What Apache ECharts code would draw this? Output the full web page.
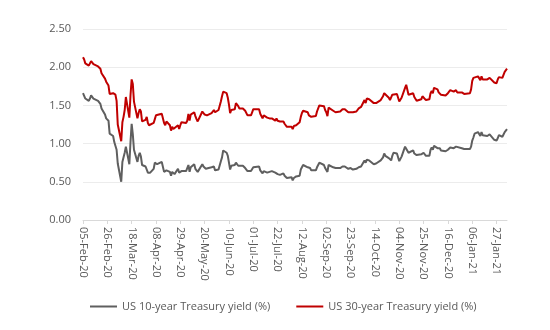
<!DOCTYPE html>
<html>
<head>
<meta charset="utf-8">
<script src="https://cdn.jsdelivr.net/npm/echarts@6/dist/echarts.min.js"></script>
<style>html,body{margin:0;padding:0;background:#fff}#c{width:550px;height:330px}</style>
</head>
<body>
<div id="c"></div>
<script>
const seriesNames = ["US 10-year Treasury yield (%)", "US 30-year Treasury yield (%)"];
const yTicks = [0, 0.5, 1, 1.5, 2, 2.5];

const dates = [
"2020-02-05","2020-02-06","2020-02-07","2020-02-10","2020-02-11","2020-02-12","2020-02-13","2020-02-14","2020-02-18","2020-02-19","2020-02-20","2020-02-21","2020-02-24","2020-02-25","2020-02-26","2020-02-27","2020-02-28",
"2020-03-02","2020-03-03","2020-03-04","2020-03-05","2020-03-06","2020-03-09","2020-03-10","2020-03-11","2020-03-12","2020-03-13","2020-03-16","2020-03-17","2020-03-18","2020-03-19","2020-03-20","2020-03-23","2020-03-24","2020-03-25","2020-03-26","2020-03-27","2020-03-30","2020-03-31",
"2020-04-01","2020-04-02","2020-04-03","2020-04-06","2020-04-07","2020-04-08","2020-04-09","2020-04-13","2020-04-14","2020-04-15","2020-04-16","2020-04-17","2020-04-20","2020-04-21","2020-04-22","2020-04-23","2020-04-24","2020-04-27","2020-04-28","2020-04-29","2020-04-30",
"2020-05-01","2020-05-04","2020-05-05","2020-05-06","2020-05-07","2020-05-08","2020-05-11","2020-05-12","2020-05-13","2020-05-14","2020-05-15","2020-05-18","2020-05-19","2020-05-20","2020-05-21","2020-05-22","2020-05-26","2020-05-27","2020-05-28","2020-05-29",
"2020-06-01","2020-06-02","2020-06-03","2020-06-04","2020-06-05","2020-06-08","2020-06-09","2020-06-10","2020-06-11","2020-06-12","2020-06-15","2020-06-16","2020-06-17","2020-06-18","2020-06-19","2020-06-22","2020-06-23","2020-06-24","2020-06-25","2020-06-26","2020-06-29","2020-06-30",
"2020-07-01","2020-07-02","2020-07-06","2020-07-07","2020-07-08","2020-07-09","2020-07-10","2020-07-13","2020-07-14","2020-07-15","2020-07-16","2020-07-17","2020-07-20","2020-07-21","2020-07-22","2020-07-23","2020-07-24","2020-07-27","2020-07-28","2020-07-29","2020-07-30","2020-07-31",
"2020-08-03","2020-08-04","2020-08-05","2020-08-06","2020-08-07","2020-08-10","2020-08-11","2020-08-12","2020-08-13","2020-08-14","2020-08-17","2020-08-18","2020-08-19","2020-08-20","2020-08-21","2020-08-24","2020-08-25","2020-08-26","2020-08-27","2020-08-28","2020-08-31",
"2020-09-01","2020-09-02","2020-09-03","2020-09-04","2020-09-08","2020-09-09","2020-09-10","2020-09-11","2020-09-14","2020-09-15","2020-09-16","2020-09-17","2020-09-18","2020-09-21","2020-09-22","2020-09-23","2020-09-24","2020-09-25","2020-09-28","2020-09-29","2020-09-30",
"2020-10-01","2020-10-02","2020-10-05","2020-10-06","2020-10-07","2020-10-08","2020-10-09","2020-10-13","2020-10-14","2020-10-15","2020-10-16","2020-10-19","2020-10-20","2020-10-21","2020-10-22","2020-10-23","2020-10-26","2020-10-27","2020-10-28","2020-10-29","2020-10-30",
"2020-11-02","2020-11-03","2020-11-04","2020-11-05","2020-11-06","2020-11-09","2020-11-10","2020-11-12","2020-11-13","2020-11-16","2020-11-17","2020-11-18","2020-11-19","2020-11-20","2020-11-23","2020-11-24","2020-11-25","2020-11-27","2020-11-30",
"2020-12-01","2020-12-02","2020-12-03","2020-12-04","2020-12-07","2020-12-08","2020-12-09","2020-12-10","2020-12-11","2020-12-14","2020-12-15","2020-12-16","2020-12-17","2020-12-18","2020-12-21","2020-12-22","2020-12-23","2020-12-24","2020-12-28","2020-12-29","2020-12-30","2020-12-31",
"2021-01-04","2021-01-05","2021-01-06","2021-01-07","2021-01-08","2021-01-11","2021-01-12","2021-01-13","2021-01-14","2021-01-15","2021-01-19","2021-01-20","2021-01-21","2021-01-22","2021-01-25","2021-01-26","2021-01-27","2021-01-28","2021-01-29",
"2021-02-01","2021-02-02","2021-02-03","2021-02-04","2021-02-05"
];

const us10y = [
1.66,1.65,1.59,1.56,1.59,1.63,1.62,1.59,1.56,1.57,1.52,1.46,1.38,1.33,1.33,1.30,1.13,
1.10,1.02,1.02,0.92,0.74,0.50,0.76,0.82,0.88,0.96,0.73,1.02,1.26,1.12,0.92,0.76,0.84,0.88,0.83,0.72,0.70,0.70,
0.62,0.63,0.62,0.67,0.75,0.77,0.73,0.76,0.76,0.63,0.61,0.65,0.63,0.58,0.63,0.61,0.60,0.67,0.62,0.63,0.64,
0.64,0.64,0.66,0.72,0.63,0.69,0.73,0.67,0.66,0.63,0.64,0.73,0.70,0.68,0.67,0.66,0.69,0.68,0.70,0.65,
0.66,0.68,0.77,0.82,0.91,0.88,0.84,0.75,0.66,0.71,0.72,0.75,0.74,0.71,0.70,0.71,0.72,0.68,0.68,0.64,0.64,0.66,
0.69,0.68,0.70,0.65,0.67,0.61,0.64,0.62,0.63,0.63,0.62,0.64,0.62,0.61,0.60,0.59,0.59,0.61,0.58,0.58,0.55,0.55,
0.56,0.52,0.55,0.55,0.57,0.58,0.66,0.68,0.72,0.71,0.69,0.67,0.68,0.65,0.64,0.65,0.69,0.69,0.75,0.74,0.72,
0.68,0.67,0.63,0.72,0.69,0.70,0.68,0.67,0.68,0.68,0.70,0.69,0.70,0.67,0.68,0.68,0.67,0.66,0.67,0.65,0.69,
0.68,0.70,0.78,0.75,0.79,0.78,0.78,0.73,0.73,0.74,0.75,0.78,0.80,0.82,0.87,0.84,0.81,0.79,0.78,0.84,0.88,
0.87,0.89,0.77,0.78,0.83,0.96,0.98,0.88,0.90,0.91,0.87,0.87,0.85,0.83,0.86,0.88,0.88,0.84,0.84,
0.92,0.95,0.92,0.97,0.94,0.92,0.94,0.91,0.90,0.90,0.92,0.92,0.93,0.95,0.94,0.92,0.96,0.94,0.94,0.94,0.93,0.93,
0.93,0.96,1.04,1.08,1.13,1.15,1.15,1.10,1.15,1.11,1.10,1.10,1.12,1.10,1.05,1.05,1.04,1.07,1.11,
1.09,1.12,1.15,1.16,1.19
];

const us30y = [
2.13,2.10,2.05,2.02,2.05,2.08,2.07,2.04,2.01,2.03,1.98,1.92,1.85,1.81,1.80,1.76,1.65,
1.66,1.64,1.64,1.56,1.25,1.03,1.28,1.35,1.44,1.61,1.34,1.63,1.84,1.78,1.55,1.33,1.40,1.45,1.42,1.29,1.31,1.35,
1.27,1.24,1.24,1.27,1.32,1.37,1.35,1.39,1.39,1.27,1.24,1.29,1.24,1.17,1.22,1.19,1.17,1.24,1.19,1.24,1.28,
1.26,1.27,1.30,1.39,1.30,1.38,1.41,1.36,1.32,1.29,1.31,1.42,1.41,1.38,1.37,1.37,1.40,1.40,1.44,1.41,
1.44,1.46,1.55,1.62,1.68,1.66,1.60,1.51,1.40,1.44,1.45,1.53,1.52,1.49,1.46,1.46,1.48,1.43,1.44,1.37,1.37,1.41,
1.45,1.43,1.45,1.39,1.41,1.33,1.37,1.34,1.33,1.33,1.32,1.33,1.30,1.33,1.30,1.29,1.29,1.29,1.26,1.26,1.22,1.20,
1.22,1.19,1.23,1.22,1.24,1.28,1.35,1.40,1.43,1.45,1.41,1.37,1.39,1.35,1.34,1.36,1.42,1.41,1.50,1.51,1.49,
1.44,1.41,1.36,1.47,1.43,1.44,1.41,1.41,1.42,1.42,1.45,1.44,1.45,1.41,1.41,1.41,1.42,1.41,1.42,1.41,1.46,
1.45,1.48,1.57,1.53,1.59,1.58,1.58,1.53,1.53,1.53,1.53,1.57,1.59,1.62,1.66,1.65,1.60,1.57,1.56,1.64,1.66,
1.65,1.67,1.55,1.54,1.60,1.73,1.77,1.64,1.66,1.66,1.61,1.60,1.56,1.54,1.58,1.62,1.62,1.57,1.58,
1.66,1.69,1.66,1.73,1.71,1.67,1.69,1.64,1.62,1.63,1.65,1.66,1.68,1.70,1.68,1.66,1.70,1.67,1.67,1.66,1.65,1.65,
1.66,1.71,1.82,1.86,1.87,1.88,1.88,1.83,1.88,1.84,1.84,1.84,1.86,1.85,1.80,1.81,1.79,1.84,1.87,
1.86,1.90,1.94,1.96,1.98
];

// Calendar-day category axis (Excel-style date axis): weekends/holidays empty, lines connected
const MON = ["Jan","Feb","Mar","Apr","May","Jun","Jul","Aug","Sep","Oct","Nov","Dec"];
function fmt(d){
  return String(d.getUTCDate()).padStart(2,"0")+"-"+MON[d.getUTCMonth()]+"-"+String(d.getUTCFullYear()).slice(2);
}
const startD = new Date(dates[0]+"T00:00:00Z");
const endD = new Date(dates[dates.length-1]+"T00:00:00Z");
const cats = [], idx = {};
for (let t = startD.getTime(); t <= endD.getTime(); t += 86400000) {
  const d = new Date(t);
  idx[d.toISOString().slice(0,10)] = cats.length;
  cats.push(fmt(d));
}
const s10 = new Array(cats.length).fill(null);
const s30 = new Array(cats.length).fill(null);
dates.forEach((d,i)=>{ s10[idx[d]] = us10y[i]; s30[idx[d]] = us30y[i]; });

const chart = echarts.init(document.getElementById('c'), null, {renderer:'canvas'});
const font = "Open Sans";
chart.setOption({
  animation: false,
  backgroundColor: '#ffffff',
  grid: { left: 83, right: 43, top: 29, bottom: 110, containLabel: false },
  xAxis: {
    type: 'category',
    data: cats,
    boundaryGap: false,
    axisLine: { show: true, lineStyle: { color: '#d9d9d9', width: 1 } },
    axisTick: { show: true, interval: 20, length: 4, lineStyle: { color: '#d9d9d9' } },
    axisLabel: { interval: 20, rotate: -90, color: '#595959', fontFamily: font, fontSize: 11, margin: 7 },
    splitLine: { show: false }
  },
  yAxis: {
    type: 'value',
    min: yTicks[0], max: yTicks[yTicks.length-1], interval: 0.5,
    axisLine: { show: false }, axisTick: { show: false },
    axisLabel: { color: '#595959', fontFamily: font, fontSize: 11, margin: 12, formatter: v => v.toFixed(2) },
    splitLine: { lineStyle: { color: '#ececec', width: 1 } }
  },
  legend: {
    bottom: 13, left: 85,
    itemWidth: 27, itemHeight: 2, itemGap: 26,
    icon: 'rect',
    textStyle: { color: '#595959', fontFamily: font, fontSize: 11 },
    data: seriesNames
  },
  series: [
    { name: seriesNames[0], type: 'line', data: s10, connectNulls: true, showSymbol: false, symbol: 'none',
      lineStyle: { color: '#5f5f5f', width: 2 }, itemStyle: { color: '#5f5f5f' } },
    { name: seriesNames[1], type: 'line', data: s30, connectNulls: true, showSymbol: false, symbol: 'none',
      lineStyle: { color: '#c00000', width: 2 }, itemStyle: { color: '#c00000' } }
  ]
});
</script>
</body>
</html>
